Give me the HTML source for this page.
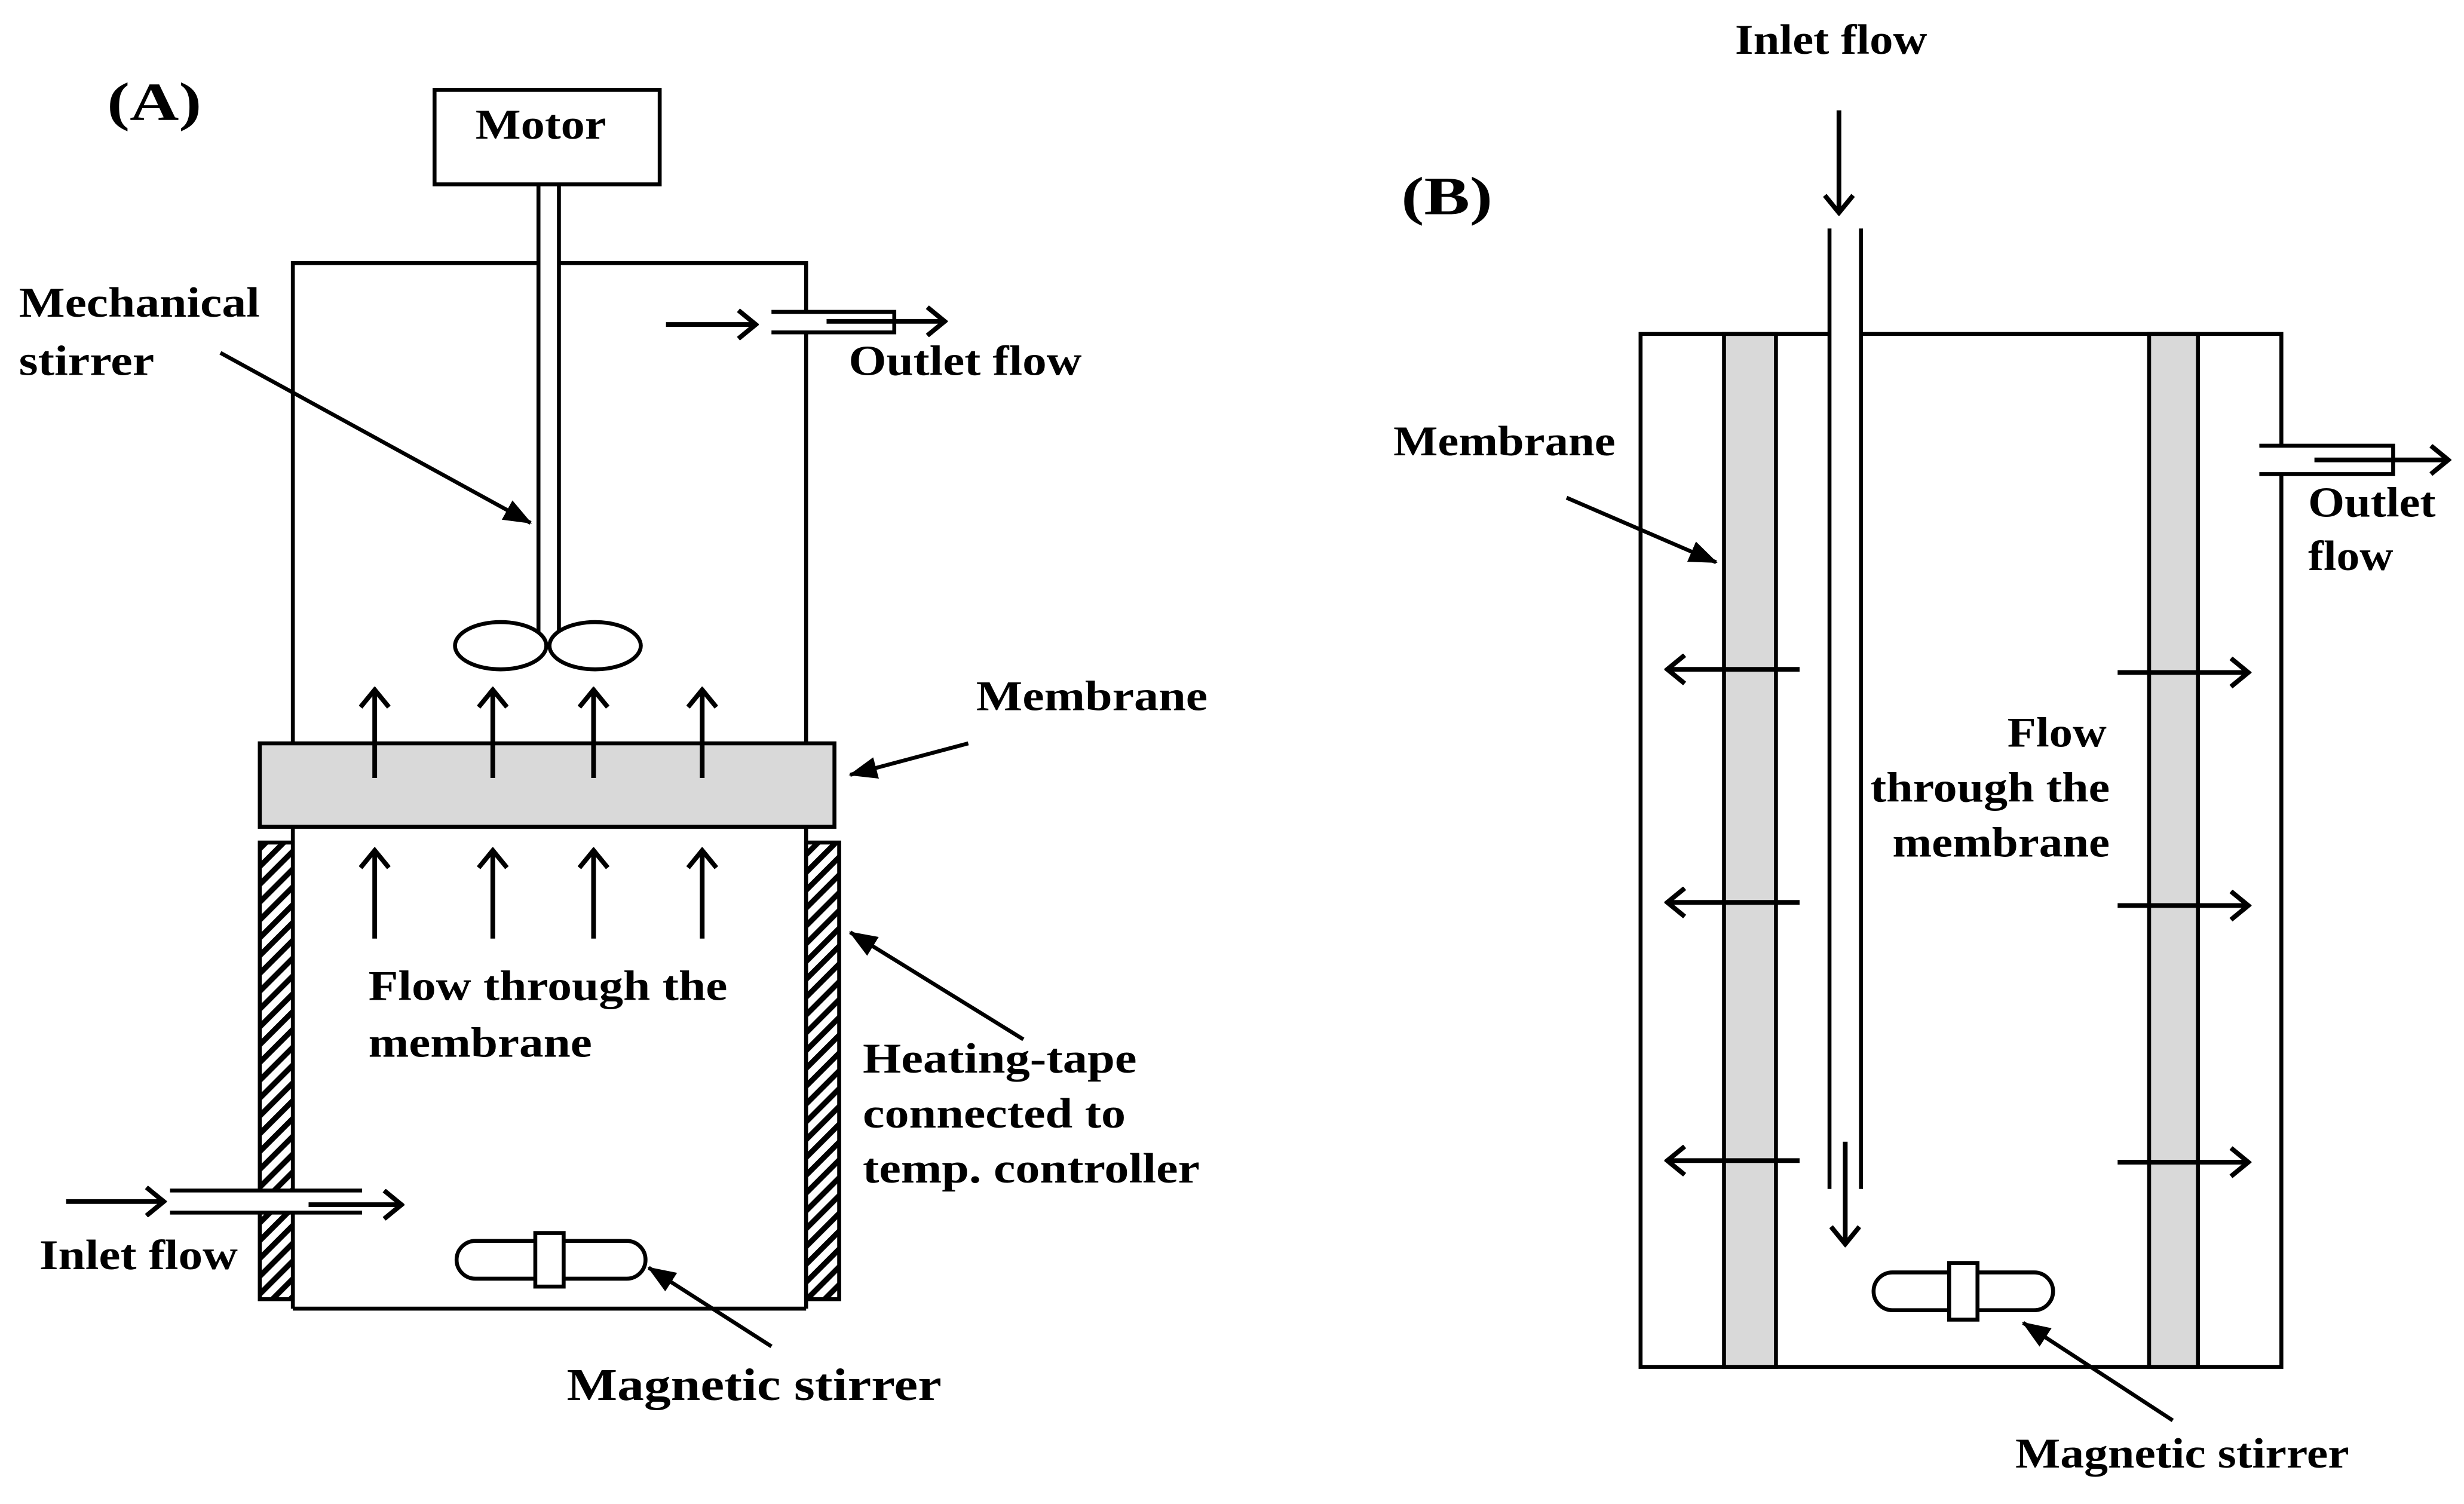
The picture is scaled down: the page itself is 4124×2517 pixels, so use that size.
<!DOCTYPE html>
<html><head><meta charset="utf-8"><style>html,body{margin:0;padding:0;background:#fff}svg{display:block}</style></head>
<body>
<svg width="4124" height="2517" viewBox="0 0 1565 955" xmlns="http://www.w3.org/2000/svg">
<defs>
<marker id="v" markerWidth="14" markerHeight="20" refX="12" refY="10" orient="auto" markerUnits="userSpaceOnUse"><path d="M1,1 L12,10 L1,19" fill="none" stroke="#000" stroke-width="3"/></marker>
<marker id="t" markerWidth="18" markerHeight="14" refX="17" refY="7" orient="auto" markerUnits="userSpaceOnUse"><path d="M0,0 L18,7 L0,14 z" fill="#000"/></marker>
<pattern id="h" width="8" height="8" patternUnits="userSpaceOnUse" patternTransform="rotate(-45)"><rect width="8" height="8" fill="#fff"/><rect width="8" height="3.5" fill="#000"/></pattern>
</defs>
<g fill="none" stroke="#000" stroke-width="2.5">
<rect x="276" y="57" width="143" height="60" fill="#fff"/>
<line x1="342" y1="117" x2="342" y2="402"/><line x1="355" y1="117" x2="355" y2="402"/>
<polyline points="342,167 186,167 186,472"/><polyline points="355,167 512,167 512,198"/><line x1="512" y1="211" x2="512" y2="472"/>
<ellipse cx="318" cy="410" rx="29" ry="15" fill="#fff"/><ellipse cx="378" cy="410" rx="29" ry="15" fill="#fff"/>
<rect x="165" y="472" width="365" height="53" fill="#d9d9d9"/>
<line x1="186" y1="525" x2="186" y2="756"/><line x1="186" y1="770" x2="186" y2="831"/><line x1="186" y1="831" x2="512" y2="831"/><line x1="512" y1="525" x2="512" y2="831"/>
<rect x="165" y="535" width="21" height="290" fill="url(#h)"/><rect x="512" y="535" width="21" height="290" fill="url(#h)"/>
<rect x="160" y="757" width="30" height="12" fill="#fff" stroke="none"/>
<polyline points="490,198 568,198 568,211 490,211" fill="#fff"/>
<line x1="108" y1="756" x2="230" y2="756"/><line x1="108" y1="770" x2="230" y2="770"/>
<g marker-end="url(#v)" stroke-width="3">
<line x1="238" y1="494" x2="238" y2="438"/><line x1="313" y1="494" x2="313" y2="438"/><line x1="377" y1="494" x2="377" y2="438"/><line x1="446" y1="494" x2="446" y2="438"/>
<line x1="238" y1="596" x2="238" y2="540"/><line x1="313" y1="596" x2="313" y2="540"/><line x1="377" y1="596" x2="377" y2="540"/><line x1="446" y1="596" x2="446" y2="540"/>
<line x1="423" y1="206" x2="480" y2="206"/><line x1="525" y1="204" x2="600" y2="204"/>
<line x1="42" y1="763" x2="104" y2="763"/><line x1="196" y1="765" x2="255" y2="765"/>
</g>
<rect x="290" y="788" width="120" height="24" rx="12" fill="#fff"/><rect x="340" y="783" width="18" height="34" fill="#fff"/>
<g marker-end="url(#t)">
<line x1="140" y1="224" x2="337" y2="332"/>
<line x1="615" y1="472" x2="540" y2="492"/>
<line x1="650" y1="660" x2="540" y2="592"/>
<line x1="490" y1="855" x2="412" y2="805"/>
<line x1="995" y1="316" x2="1090" y2="357"/>
<line x1="1380" y1="902" x2="1285" y2="840"/>
</g>
<polyline points="1162,212 1042,212 1042,868 1449,868 1449,301"/><polyline points="1182,212 1449,212 1449,283"/>
<rect x="1095" y="212" width="33" height="656" fill="#d9d9d9"/><rect x="1365" y="212" width="31" height="656" fill="#d9d9d9"/>
<line x1="1162" y1="145" x2="1162" y2="755"/><line x1="1182" y1="145" x2="1182" y2="755"/>
<polyline points="1435,283 1520,283 1520,301 1435,301" fill="#fff"/>
<g marker-end="url(#v)" stroke-width="3">
<line x1="1168" y1="70" x2="1168" y2="135"/>
<line x1="1172" y1="725" x2="1172" y2="790"/>
<line x1="1470" y1="292" x2="1555" y2="292"/>
<line x1="1143" y1="425" x2="1059" y2="425"/><line x1="1143" y1="573" x2="1059" y2="573"/><line x1="1143" y1="737" x2="1059" y2="737"/>
<line x1="1345" y1="427" x2="1428" y2="427"/><line x1="1345" y1="575" x2="1428" y2="575"/><line x1="1345" y1="738" x2="1428" y2="738"/>
</g>
<rect x="1190" y="808" width="114" height="24" rx="12" fill="#fff"/><rect x="1238" y="802" width="18" height="36" fill="#fff"/>
</g>
<g font-family="Liberation Serif, serif" font-weight="bold" font-size="27" fill="#000" lengthAdjust="spacingAndGlyphs">
<text x="68" y="76" font-size="34" textLength="60" lengthAdjust="spacingAndGlyphs">(A)</text>
<text x="302" y="88" textLength="83" lengthAdjust="spacingAndGlyphs">Motor</text>
<text x="12" y="201" textLength="153" lengthAdjust="spacingAndGlyphs">Mechanical</text>
<text x="12" y="238" textLength="86" lengthAdjust="spacingAndGlyphs">stirrer</text>
<text x="539" y="238" textLength="148" lengthAdjust="spacingAndGlyphs">Outlet flow</text>
<text x="620" y="451" textLength="147" lengthAdjust="spacingAndGlyphs">Membrane</text>
<text x="234" y="635" textLength="228" lengthAdjust="spacingAndGlyphs">Flow through the</text>
<text x="234" y="671" textLength="142" lengthAdjust="spacingAndGlyphs">membrane</text>
<text x="548" y="681" textLength="174" lengthAdjust="spacingAndGlyphs">Heating-tape</text>
<text x="548" y="716" textLength="167" lengthAdjust="spacingAndGlyphs">connected to</text>
<text x="548" y="751" textLength="214" lengthAdjust="spacingAndGlyphs">temp. controller</text>
<text x="25" y="806" textLength="126" lengthAdjust="spacingAndGlyphs">Inlet flow</text>
<text x="360" y="889" font-size="29" textLength="238" lengthAdjust="spacingAndGlyphs">Magnetic stirrer</text>
<text x="890" y="136" font-size="34" textLength="58" lengthAdjust="spacingAndGlyphs">(B)</text>
<text x="1102" y="34" textLength="122" lengthAdjust="spacingAndGlyphs">Inlet flow</text>
<text x="885" y="289" textLength="141" lengthAdjust="spacingAndGlyphs">Membrane</text>
<text x="1466" y="328" textLength="81" lengthAdjust="spacingAndGlyphs">Outlet</text>
<text x="1466" y="362" textLength="54" lengthAdjust="spacingAndGlyphs">flow</text>
<text x="1275" y="474" textLength="63" lengthAdjust="spacingAndGlyphs">Flow</text>
<text x="1188" y="509" textLength="152" lengthAdjust="spacingAndGlyphs">through the</text>
<text x="1202" y="544" textLength="138" lengthAdjust="spacingAndGlyphs">membrane</text>
<text x="1280" y="932" textLength="212" lengthAdjust="spacingAndGlyphs">Magnetic stirrer</text>
</g>
</svg>
</body></html>
